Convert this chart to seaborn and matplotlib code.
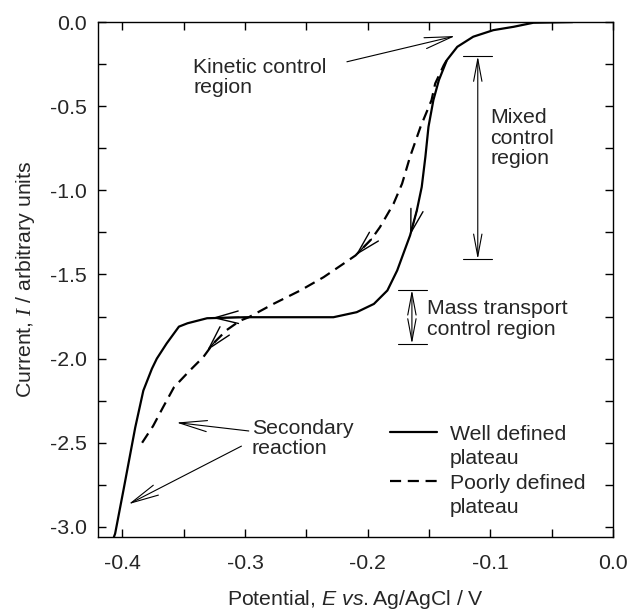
import numpy as np
import pandas as pd
import matplotlib
matplotlib.use("Agg")
import matplotlib.pyplot as plt
import seaborn as sns
from matplotlib.lines import Line2D
from matplotlib.ticker import MultipleLocator

# ---------------- data ----------------
well_E = [-0.4070, -0.4060, -0.3988, -0.3896, -0.3830, -0.3760, -0.3720, -0.3640,
          -0.3540, -0.3470, -0.3310, -0.3000, -0.2600, -0.2280, -0.2090, -0.1950,
          -0.1840, -0.1760, -0.1700, -0.1655, -0.1600, -0.1560, -0.1530, -0.1505,
          -0.1465, -0.1420, -0.1355, -0.1270, -0.1140, -0.0976, -0.0810, -0.0650,
          -0.0330]
well_I = [-3.060, -3.040, -2.766, -2.409, -2.190, -2.060, -2.000, -1.910,
          -1.810, -1.790, -1.760, -1.754, -1.754, -1.754, -1.724, -1.675,
          -1.595, -1.476, -1.357, -1.268, -1.120, -0.980, -0.800, -0.623,
          -0.464, -0.345, -0.226, -0.147, -0.087, -0.048, -0.028, -0.004,
          0.000]

poor_E = [-0.3840, -0.3750, -0.3670, -0.3580, -0.3450, -0.3340, -0.3260, -0.3150,
          -0.3040, -0.2970, -0.2770, -0.2550, -0.2360, -0.2200, -0.2100, -0.1970,
          -0.1900, -0.1790, -0.1720, -0.1655, -0.1570, -0.1480, -0.1450, -0.1380,
          -0.1340]
poor_I = [-2.500, -2.400, -2.290, -2.170, -2.070, -1.990, -1.910, -1.830,
          -1.774, -1.754, -1.675, -1.595, -1.516, -1.437, -1.387, -1.290,
          -1.218, -1.080, -0.960, -0.800, -0.623, -0.464, -0.365, -0.256,
          -0.206]

series_labels = ["Well defined\nplateau", "Poorly defined\nplateau"]
x_ticks = [-0.4, -0.3, -0.2, -0.1, 0.0]
y_ticks = [0.0, -0.5, -1.0, -1.5, -2.0, -2.5, -3.0]

df = pd.concat([
    pd.DataFrame({"E": well_E, "I": well_I, "curve": "well"}),
    pd.DataFrame({"E": poor_E, "I": poor_I, "curve": "poor"}),
], ignore_index=True)

# ---------------- style ----------------
sns.set_style("ticks")
plt.rcParams["font.family"] = ["Liberation Sans", "DejaVu Sans"]
plt.rcParams["mathtext.fontset"] = "custom"
plt.rcParams["mathtext.rm"] = "Liberation Sans"
plt.rcParams["mathtext.it"] = "Liberation Sans:italic"
plt.rcParams["mathtext.cal"] = "Liberation Serif:italic"
FS = 15.3

fig = plt.figure(figsize=(6.32, 6.13), dpi=100)
ax = fig.add_axes([0.155, 0.124, 0.815, 0.840])

lw = 1.6
sns.lineplot(data=df[df.curve == "well"], x="E", y="I", sort=False, estimator=None,
             color="black", lw=lw, ax=ax, legend=False)
sns.lineplot(data=df[df.curve == "poor"], x="E", y="I", sort=False, estimator=None,
             color="black", lw=lw, ax=ax, legend=False)
ax.lines[1].set_dashes([5, 3])

ax.set_xlim(-0.42, 0.0)
ax.set_ylim(-3.06, 0.0)
ax.set_xticks(x_ticks)
ax.set_yticks(y_ticks)
ax.set_xticklabels([f"{v:.1f}" for v in x_ticks])
ax.set_yticklabels([f"{v:.1f}" for v in y_ticks])
ax.xaxis.set_minor_locator(MultipleLocator(0.05))
ax.yaxis.set_minor_locator(MultipleLocator(0.25))
ax.tick_params(which="both", direction="in", top=True, right=True,
               length=5.5, width=1.0, color="black")
ax.tick_params(which="major", labelsize=FS)
ax.tick_params(axis="x", which="major", pad=12)
ax.tick_params(axis="y", which="major", pad=8)
for s in ax.spines.values():
    s.set_linewidth(1.0)
    s.set_color("black")

ax.set_xlabel(r"Potential, $\mathit{E}$ $\mathit{vs.}$Ag/AgCl / V", fontsize=FS, labelpad=11)
ax.set_ylabel(r"Current, $\mathcal{I}$ / arbitrary units", fontsize=FS, labelpad=9)

# ---------------- direction arrows on curves ----------------
head = dict(arrowstyle="->,head_length=1.7,head_width=0.45", color="black",
            lw=1.0, mutation_scale=10, shrinkA=0, shrinkB=0)
ax.annotate("", xy=(-0.1655, -1.268), xytext=(-0.1600, -1.12), arrowprops=head)
ax.annotate("", xy=(-0.2100, -1.387), xytext=(-0.1970, -1.290), arrowprops=head)
ax.annotate("", xy=(-0.3270, -1.758), xytext=(-0.3050, -1.754), arrowprops=head)
ax.annotate("", xy=(-0.3310, -1.952), xytext=(-0.3240, -1.895), arrowprops=head)

# ---------------- annotations ----------------
thin = dict(arrowstyle="->,head_length=2.0,head_width=0.4", color="black",
            lw=0.8, mutation_scale=10, shrinkA=0, shrinkB=0)
ax.annotate("", xy=(-0.1288, -0.083), xytext=(-0.2170, -0.236), arrowprops=thin)
ax.text(-0.3425, -0.33, "Kinetic control\nregion", fontsize=FS, ha="left", va="center",
        linespacing=1.1)

dbl = dict(arrowstyle="<->,head_length=1.6,head_width=0.3", color="black",
           lw=0.8, mutation_scale=10, shrinkA=0, shrinkB=0)
# mixed control
ax.annotate("", xy=(-0.1103, -0.202), xytext=(-0.1103, -1.41), arrowprops=dbl)
ax.plot([-0.1225, -0.0986], [-0.202, -0.202], color="black", lw=0.8)
ax.plot([-0.1225, -0.0986], [-1.41, -1.41], color="black", lw=0.8)
ax.text(-0.1002, -0.69, "Mixed\ncontrol\nregion", fontsize=FS, ha="left", va="center",
        linespacing=1.1)
# mass transport
ax.annotate("", xy=(-0.1640, -1.591), xytext=(-0.1640, -1.913), arrowprops=dbl)
ax.plot([-0.1750, -0.1520], [-1.591, -1.591], color="black", lw=0.8)
ax.plot([-0.1750, -0.1520], [-1.913, -1.913], color="black", lw=0.8)
ax.text(-0.1516, -1.765, "Mass transport\ncontrol region", fontsize=FS, ha="left",
        va="center", linespacing=1.1)
# secondary reaction
ax.annotate("", xy=(-0.3560, -2.38), xytext=(-0.2970, -2.43), arrowprops=thin)
ax.annotate("", xy=(-0.3950, -2.865), xytext=(-0.3030, -2.52), arrowprops=thin)
ax.text(-0.2945, -2.476, "Secondary\nreaction", fontsize=FS, ha="left", va="center",
        linespacing=1.1)

# ---------------- legend ----------------
blank = Line2D([], [], color="none")
h_well = Line2D([], [], color="black", lw=lw)
h_poor = Line2D([], [], color="black", lw=lw, dashes=[5, 3])
w1, w2 = series_labels[0].split("\n")
p1, p2 = series_labels[1].split("\n")
leg = ax.legend([h_well, blank, h_poor, blank], [w1, w2, p1, p2],
                loc="upper left", bbox_to_anchor=(-0.1817, -2.393),
                bbox_transform=ax.transData, frameon=False, fontsize=FS,
                handlelength=2.2, handletextpad=0.6, labelspacing=0.26,
                borderpad=0, borderaxespad=0)

fig.savefig("out.png", dpi=100)
